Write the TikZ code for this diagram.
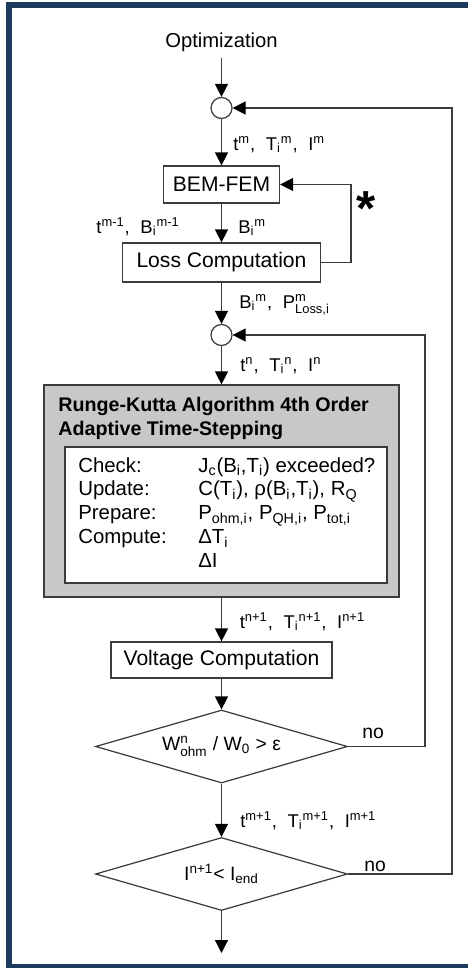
\documentclass[tikz,border=0pt]{standalone}
\usepackage{fontspec}
\setmainfont{Liberation Sans}
\usepackage{amsmath}
\usepackage{xcolor}
\usepackage{tikz}
\usetikzlibrary{arrows.meta,shapes.geometric,positioning,calc}
\definecolor{framecol}{HTML}{1B3A5E}
\definecolor{rkgray}{HTML}{C8C8C8}
\definecolor{linecol}{HTML}{3C3C3C}
\newcommand{\supsub}[2]{$^{\text{#1}}_{\text{#2}}$}
\newcommand{\lsup}[1]{$^{\text{#1}}$}
\newcommand{\lsub}[1]{$_{\text{#1}}$}
\newcommand{\subsup}[2]{\lsub{#1}\lsup{#2}}
\newcommand{\lsep}{,\hspace{0.3em} }
\tikzset{box/.style={draw=linecol, line width=0.7pt, fill=white, inner sep=0pt, font=\fontsize{12}{14}\selectfont},
junction/.style={circle, draw=linecol, line width=0.7pt, fill=white, minimum size=0.42cm, inner sep=0pt},
decision/.style={diamond, aspect=3.45, draw=linecol, line width=0.7pt, inner sep=0pt, minimum width=5.04cm, minimum height=1.46cm, font=\fontsize{11}{13}\selectfont},
flow/.style={draw=linecol, line width=0.7pt, -{Triangle[length=0.26cm,width=0.26cm,color=black]}},
varlabel/.style={font=\fontsize{10.5}{12}\selectfont, inner sep=0pt, anchor=base west},
nolabel/.style={font=\fontsize{11}{13}\selectfont, inner sep=0pt, anchor=base west}}

\begin{document}
\begin{tikzpicture}
 \useasboundingbox (0,0) rectangle (9.36,-19.36);
 %Drawing Frame
 \fill[framecol] (0.12,-0.034) rectangle (9.36,-0.166);
 \fill[framecol] (0.12,-0.034) rectangle (0.236,-19.36);
 \fill[framecol] (0.12,-19.28) rectangle (9.36,-19.36);

 %Drawing Main Column
 \node (opt) [font=\fontsize{11.5}{13}\selectfont] at (4.43,-0.84) {Optimization};
 \node[junction] (c1) at (4.43,-2.16) {};
 \node[box, minimum width=2.32cm, minimum height=0.74cm] (bem) at (4.43,-3.69) {BEM-FEM};
 \node[box, minimum width=3.96cm, minimum height=0.78cm] (loss) at (4.43,-5.25) {Loss Computation};
 \node[junction] (c2) at (4.43,-6.70) {};

 \node[box, fill=rkgray, minimum width=7.1cm, minimum height=4.24cm] (rk) at (4.43,-9.82) {};
 \node (rktitle) [anchor=north west, align=left, inner sep=0pt, font=\fontsize{11.2}{13.65}\selectfont\bfseries] at (1.16,-7.93) {Runge-Kutta Algorithm 4th Order\\Adaptive Time-Stepping};
 \node[box, minimum width=6.44cm, minimum height=2.72cm] (steps) at (4.52,-10.30) {};
 \node (rows) [anchor=base west, inner sep=0pt, font=\fontsize{11.6}{13.65}\selectfont] at (1.56,-9.44) {%
 \begin{tabular}[t]{@{}p{2.4cm}@{}l@{}}
 Check: & J\lsub{c}(B\lsub{i},T\lsub{i}) exceeded?\\
 Update: & C(T\lsub{i}), ρ(B\lsub{i},T\lsub{i}), R\lsub{Q}\\
 Prepare: & P\lsub{ohm,i}, P\lsub{QH,i}, P\lsub{tot,i}\\
 Compute: & ΔT\lsub{i}\\
  & ΔI
 \end{tabular}};

 \node[box, minimum width=4.42cm, minimum height=0.72cm] (volt) at (4.43,-13.20) {Voltage Computation};
 \node[decision] (dia1) at (4.43,-14.93) {W\supsub{n}{ohm} / W\lsub{0} > ε};
 \node[decision] (dia2) at (4.43,-17.48) {I\lsup{n+1}< I\lsub{end}};
 \coordinate (endpt) at (4.43,-19.06);

 %Drawing Arrows
 \draw[flow] (opt) -- (c1);
 \draw[flow] (c1) -- (bem);
 \draw[flow] (bem) -- (loss);
 \draw[flow] (loss) -- (c2);
 \draw[flow] (c2) -- (rk);
 \draw[flow] (rk) -- (volt);
 \draw[flow] (volt) -- (dia1);
 \draw[flow] (dia1) -- (dia2);
 \draw[flow] (dia2) -- (endpt);

 %Feedback Loops
 \coordinate (fb1) at (9.04,-2.16);
 \coordinate (fb2) at (8.50,-6.70);
 \coordinate (fb3) at (7.02,-3.69);
 \draw[flow] (loss.east) -| (fb3) -- (bem.east);
 \draw[flow] (dia1.east) -| (fb2) -- (c2.east);
 \draw[flow] (dia2.east) -| (fb1) -- (c1.east);
 \node (star) [anchor=base, inner sep=0pt, font=\fontsize{28}{30}\selectfont\bfseries] at (7.33,-4.50) {*};
 \node[nolabel] (no1) at (7.24,-14.76) {no};
 \node[nolabel] (no2) at (7.28,-17.42) {no};

 %Variable Labels
 \node[varlabel] (lab1) at (4.66,-3.00) {t\lsup{m}\lsep T\subsup{i}{m}\lsep I\lsup{m}};
 \node[varlabel, anchor=base east] (lab2) at (3.60,-4.66) {t\lsup{m-1}\lsep B\subsup{i}{m-1}};
 \node[varlabel] (lab3) at (4.76,-4.66) {B\subsup{i}{m}};
 \node[varlabel] (lab4) at (4.78,-6.16) {B\subsup{i}{m}\lsep P\supsub{m}{Loss,i}};
 \node[varlabel] (lab5) at (4.80,-7.42) {t\lsup{n}\lsep T\subsup{i}{n}\lsep I\lsup{n}};
 \node[varlabel] (lab6) at (4.79,-12.56) {t\lsup{n+1}\lsep T\subsup{i}{n+1}\lsep I\lsup{n+1}};
 \node[varlabel] (lab7) at (4.80,-16.54) {t\lsup{m+1}\lsep T\subsup{i}{m+1}\lsep I\lsup{m+1}};
\end{tikzpicture}
\end{document}
